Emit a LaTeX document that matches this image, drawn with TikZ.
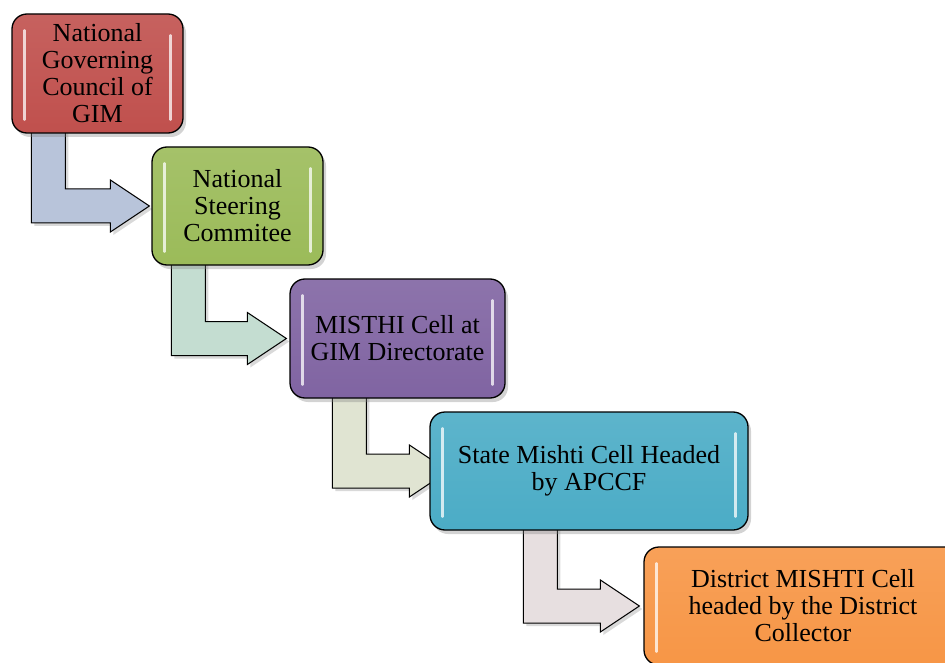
\documentclass[tikz,border=0pt]{standalone}
\usepackage{fontspec}
\setmainfont{Liberation Serif}
\newfontfamily\tnr{Liberation Serif}
\usetikzlibrary{calc,shadows}
\pgfdeclarelayer{background}
\pgfsetlayers{background,main}
\definecolor{cred}{HTML}{C0504D}
\definecolor{cgreen}{HTML}{9BBB59}
\definecolor{cpurple}{HTML}{8064A2}
\definecolor{cblue}{HTML}{4BACC6}
\definecolor{corange}{HTML}{F79646}
\definecolor{aone}{HTML}{B8C4DA}
\definecolor{atwo}{HTML}{C4DDD1}
\definecolor{athree}{HTML}{E0E4D2}
\definecolor{afour}{HTML}{E7DFE0}
\tikzset{
  boxnode/.style={draw=black, line width=1.3pt, rounded corners=15pt,
    inner sep=0pt, align=center, font=\tnr\fontsize{26}{27}\selectfont,
    top color=#1!90!white, bottom color=#1,
    drop shadow={shadow xshift=3pt, shadow yshift=-4pt, opacity=0.35}},
  gloss/.style={draw=white, line width=2.6pt, line cap=round, opacity=0.75},
  arrowshape/.style={draw=black, line width=1pt, line join=miter,
    drop shadow={shadow xshift=3pt, shadow yshift=-3pt, opacity=0.3}}
}
% #1 source, #2 target, #3 bar offset from source west, #4 tip offset from target west, #5 fill
\newcommand\bentarrow[5]{%
  \path[arrowshape, fill=#5] let \p1=(#1.south west), \p2=(#2.west) in
   (\x1+#3pt, \y1+40pt) -- (\x1+#3pt, \y2-17pt) -- (\x2+#4pt-39pt, \y2-17pt)
   -- (\x2+#4pt-39pt, \y2-26pt) -- (\x2+#4pt, \y2) -- (\x2+#4pt-39pt, \y2+26pt)
   -- (\x2+#4pt-39pt, \y2+17pt) -- (\x1+#3pt+34pt, \y2+17pt)
   -- (\x1+#3pt+34pt, \y1+40pt) -- cycle;}
\newcommand\glossy[1]{%
  \draw[gloss] ($(#1.north west)+(13,17)$) -- ($(#1.south west)+(13,-14)$);
  \draw[gloss] ($(#1.north east)+(-13,22)$) -- ($(#1.south east)+(-13,-14)$);}
\begin{document}
\begin{tikzpicture}[x=1pt,y=-1pt]
\useasboundingbox (0,0) rectangle (945,663);
\node[boxnode=cred, minimum width=171pt, minimum height=119pt] (b1) at (97.5,73.5)
  {National\\Governing\\Council of\\GIM};
\node[boxnode=cgreen, minimum width=171pt, minimum height=118pt] (b2) at (237.5,206)
  {National\\Steering\\Commitee};
\node[boxnode=cpurple, minimum width=215pt, minimum height=119pt] (b3) at (397.5,338.5)
  {MISTHI Cell at\\GIM Directorate};
\node[boxnode=cblue, minimum width=318pt, minimum height=118pt] (b4) at (589,471)
  {State Mishti Cell Headed\\by APCCF};
\node[boxnode=corange, minimum width=318pt, minimum height=118pt] (b5) at (803,606)
  {District MISHTI Cell\\headed by the District\\Collector};
\glossy{b1}\glossy{b2}\glossy{b3}\glossy{b4}\glossy{b5}
\begin{pgfonlayer}{background}
\bentarrow{b1}{b2}{20}{-2}{aone}
\bentarrow{b2}{b3}{20}{-3}{atwo}
\bentarrow{b3}{b4}{43}{19}{athree}
\bentarrow{b4}{b5}{94}{-4}{afour}
\end{pgfonlayer}
\end{tikzpicture}
\end{document}
